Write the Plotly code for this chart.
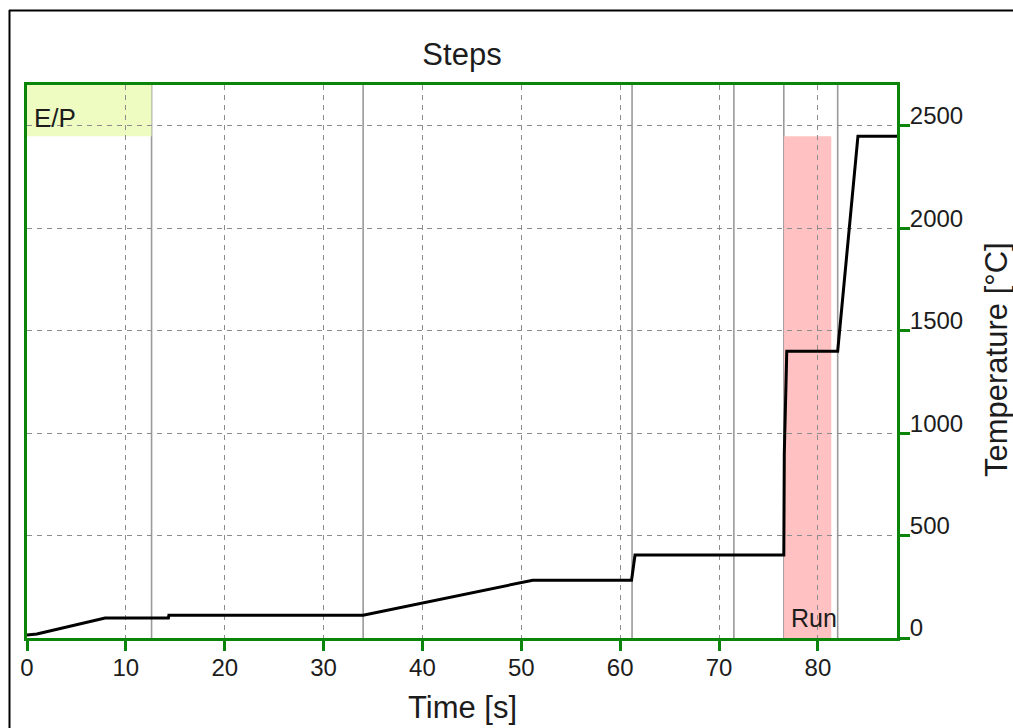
import plotly.graph_objects as go

# Temperature programme: time (s) against furnace temperature (°C)
time_s = [0, 1.0, 7.9, 14.3, 14.35, 34.0, 51.15, 61.15, 61.5, 76.55, 76.6, 76.85,
          82.0, 82.7, 83.3, 84.05, 88.0]
temp_c = [15, 20, 98, 98, 111, 111, 282, 282, 405, 405, 900, 1400,
          1400, 1770, 2080, 2450, 2450]

# Boundaries between programme steps (s)
step_edges = [12.6, 34.0, 61.2, 71.5, 76.55, 82.0]

# Phase markers: label, start, end (s)
phase_labels = ["E/P", "Run"]
phase_start = [0.0, 76.55]
phase_end = [12.6, 81.35]
phase_colors = ["rgba(236,252,186,0.9)", "rgba(255,190,190,0.95)"]

x_ticks = [0, 10, 20, 30, 40, 50, 60, 70, 80]
y_ticks = [0, 500, 1000, 1500, 2000, 2500]

X_MAX = 88.0
Y_MAX = 2700
BAND_LEVEL = 2450  # level separating the E/P band from the Run band

FONT = "Liberation Sans, Arial, sans-serif"
TXT = "#1c1c1c"
GREEN = "#0a850a"

W, H = 1013, 728
L, R, T, B = 27, 116, 85, 90

fig = go.Figure()

fig.add_trace(go.Scatter(
    x=time_s, y=temp_c, mode="lines",
    line=dict(color="black", width=3),
    hoverinfo="skip", showlegend=False,
))

shapes = []
# E/P band along the top, Run band up to the band level
shapes.append(dict(type="rect", xref="x", yref="y", layer="below",
                   x0=phase_start[0], x1=phase_end[0], y0=BAND_LEVEL, y1=Y_MAX,
                   fillcolor=phase_colors[0], line=dict(width=0)))
shapes.append(dict(type="rect", xref="x", yref="y", layer="below",
                   x0=phase_start[1], x1=phase_end[1], y0=0, y1=BAND_LEVEL,
                   fillcolor=phase_colors[1], line=dict(width=0)))
# step boundaries
for xe in step_edges:
    shapes.append(dict(type="line", xref="x", yref="paper", layer="between",
                       x0=xe, x1=xe, y0=0, y1=1,
                       line=dict(color="#9a9a9a", width=1.6)))

# window frame (left and top edges)
def px_to_paper_x(px):
    return (px - L) / (W - L - R)

def px_to_paper_y(py):
    return (H - B - py) / (H - T - B)

shapes.append(dict(type="line", xref="paper", yref="paper", layer="above",
                   x0=px_to_paper_x(9.5), x1=px_to_paper_x(9.5),
                   y0=px_to_paper_y(10), y1=px_to_paper_y(740),
                   line=dict(color="black", width=2)))
shapes.append(dict(type="line", xref="paper", yref="paper", layer="above",
                   x0=px_to_paper_x(9), x1=px_to_paper_x(1020),
                   y0=px_to_paper_y(10.5), y1=px_to_paper_y(10.5),
                   line=dict(color="black", width=2)))

annotations = [
    dict(text="E/P", xref="x", yref="paper", x=0.5, xanchor="left",
         y=px_to_paper_y(118), yanchor="middle", showarrow=False,
         font=dict(family=FONT, size=26, color=TXT)),
    dict(text="Run", xref="x", yref="paper", x=phase_start[1] + 0.5, xanchor="left",
         y=px_to_paper_y(618), yanchor="middle", showarrow=False,
         font=dict(family=FONT, size=25, color=TXT)),
    dict(text="Time [s]", xref="paper", yref="paper", x=0.5, xanchor="center",
         y=px_to_paper_y(707), yanchor="middle", showarrow=False,
         font=dict(family=FONT, size=31, color=TXT)),
    dict(text="Temperature [°C]", xref="paper", yref="paper",
         x=px_to_paper_x(996), xanchor="center",
         y=px_to_paper_y(359), yanchor="middle", textangle=-90, showarrow=False,
         font=dict(family=FONT, size=31, color=TXT)),
]

fig.update_layout(
    width=W, height=H,
    margin=dict(l=L, r=R, t=T, b=B),
    paper_bgcolor="white", plot_bgcolor="white",
    title=dict(text="Steps", x=px_to_paper_x(462), xref="paper", xanchor="center",
               y=1 - 54 / H, yref="container", yanchor="middle",
               font=dict(family=FONT, size=31, color=TXT)),
    shapes=shapes,
    annotations=annotations,
    showlegend=False,
    font=dict(family=FONT, color=TXT),
)

fig.update_xaxes(
    range=[0, X_MAX], tickvals=x_ticks, ticktext=[str(v) for v in x_ticks],
    ticks="outside", ticklen=10, tickwidth=3, tickcolor=GREEN,
    ticklabelstandoff=-4,
    tickfont=dict(family=FONT, size=24, color=TXT),
    showline=True, linecolor=GREEN, linewidth=3, mirror=True,
    showgrid=True, gridcolor="#8c8c8c", gridwidth=1, griddash="5px,5px",
    zeroline=False, fixedrange=True,
)
fig.update_yaxes(
    range=[0, Y_MAX], side="right", tickvals=y_ticks, ticktext=[str(v) for v in y_ticks],
    ticks="outside", ticklen=10, tickwidth=3, tickcolor=GREEN,
    ticklabelshift=-10, ticklabelstandoff=-5,
    tickfont=dict(family=FONT, size=24, color=TXT),
    showline=True, linecolor=GREEN, linewidth=3, mirror=True,
    showgrid=True, gridcolor="#8c8c8c", gridwidth=1, griddash="5px,5px",
    zeroline=False, fixedrange=True,
)

fig.write_html("out.html", config={"displayModeBar": False})
